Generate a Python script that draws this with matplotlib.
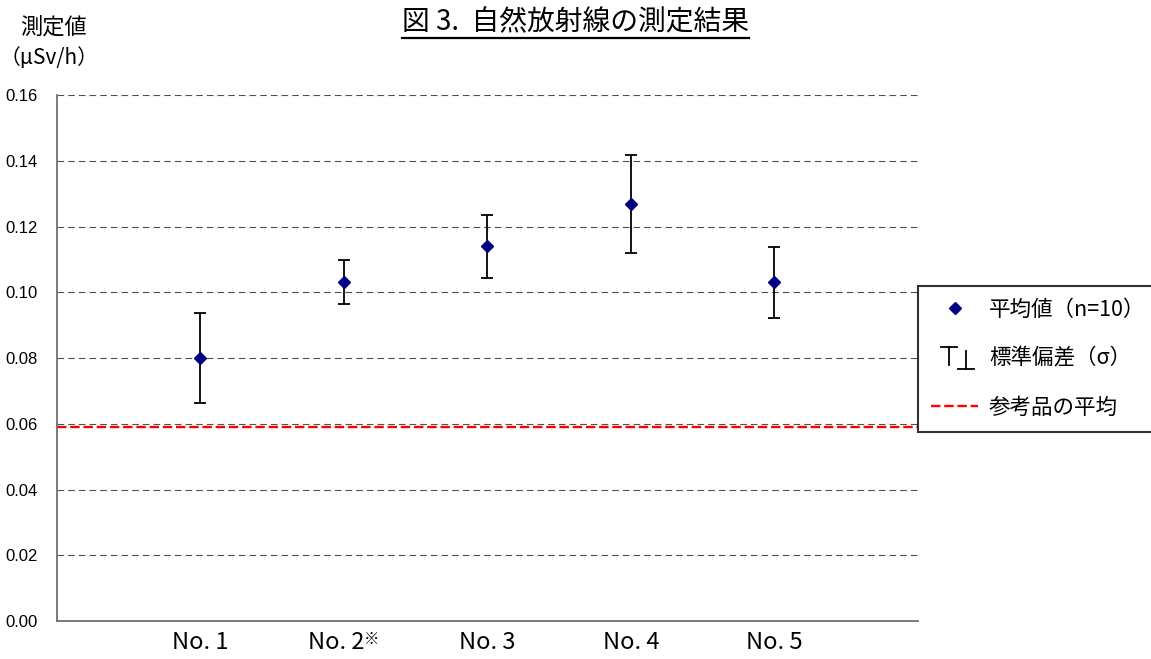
import numpy as np
import matplotlib
matplotlib.use('Agg')
import matplotlib.pyplot as plt
import matplotlib.transforms as mtransforms
from matplotlib.lines import Line2D
from matplotlib.legend_handler import HandlerBase

plt.rcParams['font.family'] = ['Noto Sans CJK JP', 'DejaVu Sans']

# measured values (uSv/h)
samples = ['No. 1', 'No. 2', 'No. 3', 'No. 4', 'No. 5']
mean_vals = [0.080, 0.103, 0.114, 0.127, 0.103]
sd_vals = [0.0136, 0.0067, 0.0095, 0.0149, 0.0107]
ref_mean = 0.059
yticks = [0.00, 0.02, 0.04, 0.06, 0.08, 0.10, 0.12, 0.14, 0.16]


class SigmaKey:
    pass


class HandlerSigma(HandlerBase):
    # draws the "T" and upside-down "T" used as key for the std-dev bars
    def create_artists(self, legend, orig_handle, xdescent, ydescent,
                       width, height, fontsize, trans):
        x0 = -xdescent
        y0 = -ydescent - height * 0.3
        y1 = -ydescent + height * 1.2
        w = width * 0.17
        xa = x0 + width * 0.38
        xb = x0 + width * 0.74
        kw = dict(color='black', lw=1.3, transform=trans)
        return [Line2D([xa - w, xa + w], [y1, y1], **kw),
                Line2D([xa, xa], [y1, y0 + height * 0.3], **kw),
                Line2D([xb, xb], [y1 - height * 0.3, y0], **kw),
                Line2D([xb - w, xb + w], [y0, y0], **kw)]


fig = plt.figure(figsize=(11.51, 6.59), dpi=100)
ax = fig.add_axes([0.0495, 0.0577, 0.748, 0.798])

x = np.arange(1, len(samples) + 1)

for yv in yticks[1:]:
    ax.axhline(yv, color='#505050', lw=0.8, ls=(0, (6, 3.6)), zorder=1)
ax.axhline(ref_mean, color='red', lw=1.7, ls=(0, (4, 1.6)), zorder=2)

ax.errorbar(x, mean_vals, yerr=sd_vals, fmt='none', ecolor='black',
            elinewidth=1.3, capsize=4.5, capthick=1.3, zorder=3)
ax.plot(x, mean_vals, 'D', color='#000080', markersize=6, zorder=4)

ax.set_xlim(0, 6)
ax.set_ylim(0, 0.16)
ax.set_yticks(yticks)
ax.set_yticklabels([f'{v:.2f}' for v in yticks], fontsize=12,
                   family=['Liberation Sans', 'DejaVu Sans'])
ax.set_xticks(x)
xlabels = ax.set_xticklabels(samples, fontsize=17)
ax.tick_params(axis='y', length=0, pad=14)
ax.tick_params(axis='x', length=0, pad=7)
for s in ['top', 'right']:
    ax.spines[s].set_visible(False)
for s in ['left', 'bottom']:
    ax.spines[s].set_color('#707070')
    ax.spines[s].set_linewidth(1.3)

# shift "No. 2" left a little and add the footnote mark after it
shift = mtransforms.ScaledTranslation(-8 / 100, 0, fig.dpi_scale_trans)
xlabels[1].set_transform(xlabels[1].get_transform() + shift)
ax.annotate('※', xy=(2, 0), xycoords=('data', 'axes fraction'),
            xytext=(19.5, -13), textcoords='offset points',
            fontsize=11, ha='center', va='center')

# axis caption
fig.text(20 / 1151, 1 - 27 / 659, '測定値', fontsize=16, va='center', ha='left')
fig.text(0, 1 - 58 / 659, '（μSv/h）', fontsize=15, va='center', ha='left')

# underlined title
title = fig.text(0.5, 1 - 22 / 659, '図 3.  自然放射線の測定結果', fontsize=20,
                 ha='center', va='center')
fig.canvas.draw()
bb = title.get_window_extent()
fig.add_artist(Line2D([bb.x0 / fig.bbox.width, bb.x1 / fig.bbox.width],
                      [(bb.y0 - 1) / fig.bbox.height] * 2,
                      color='black', lw=1.6, transform=fig.transFigure))

handles = [Line2D([], [], ls='none', marker='D', color='#000080', markersize=6),
           SigmaKey(),
           Line2D([], [], color='red', lw=1.7, ls=(0, (4, 1.6)))]
labels = ['平均値（n=10）', '標準偏差（σ）', '参考品の平均']
leg = fig.legend(handles, labels, loc='upper left',
                 bbox_to_anchor=(918 / 1151, 1 - 286 / 659),
                 handler_map={SigmaKey: HandlerSigma()},
                 fontsize=15.5, frameon=True, fancybox=False, edgecolor='black',
                 handlelength=2.2, handletextpad=0.5, labelspacing=1.25,
                 borderpad=0.6, borderaxespad=0)
leg.get_frame().set_linewidth(1.5)

fig.savefig('out.png', dpi=100)
